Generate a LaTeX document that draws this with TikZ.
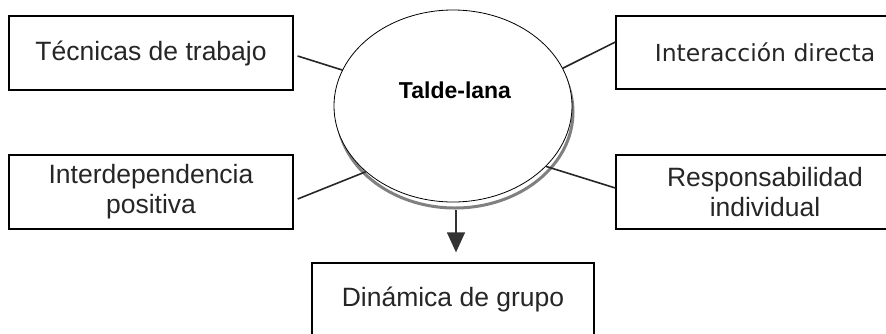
\documentclass[tikz,border=0pt]{standalone}
\usepackage{fontspec}
\setmainfont{Liberation Sans}
\newfontfamily\verdanalike{DejaVu Sans}
\usetikzlibrary{shapes.geometric,arrows.meta}
\begin{document}
\begin{tikzpicture}[x=1pt,y=1pt,
  box/.style={draw=black,line width=1.3pt,rectangle,inner sep=0pt,align=center,
    font=\fontsize{26.5}{30}\selectfont,text=black!85},
  conn/.style={draw=black!85,line width=1.6pt},
  oval/.style={ellipse,draw=black,line width=0.8pt,fill=white,inner sep=0pt,
    minimum width=238pt,minimum height=192pt},
  shade/.style={ellipse,draw=black!50,line width=3pt,inner sep=0pt,
    minimum width=236pt,minimum height=192pt}]
\useasboundingbox (0,0) rectangle (886,-333);
\clip (0,0) rectangle (886,-333);
\fill[white] (0,0) rectangle (886,-333);

% boxes
\node[box,minimum width=284pt,minimum height=74pt] (tec) at (151,-53) {Técnicas de trabajo};
\node[box,minimum width=284pt,minimum height=74pt] (idp) at (151,-192) {Interdependencia\\positiva};
\node[box,minimum width=298pt,minimum height=73pt,font=\verdanalike\fontsize{23.5}{28}\selectfont] (int) at (765,-52.5) {Interacción directa};
\node[box,minimum width=298pt,minimum height=74pt] (res) at (765,-192) {Responsabilidad\\individual};
\node[box,minimum width=282pt,minimum height=72pt] (dyn) at (453,-299) {Dinámica de grupo};

% central ellipse with shadow
\node[shade] (tlshadow) at (455,-112) {};
\node[oval] (tl) at (453,-106) {};
\node[font=\bfseries\fontsize{23}{27}\selectfont] (tltext) at ([xshift=2pt,yshift=16pt]tl.center) {Talde-lana};

% connectors
\draw[conn] ([xshift=4pt,yshift=-3pt]tec.east) -- (tl.162);
\draw[conn] (tl.19) -- ([yshift=10.5pt]int.west);
\draw[conn] ([xshift=4pt,yshift=-7pt]idp.east) -- (tl.217);
\draw[conn] (tl.-33) -- ([yshift=4pt]res.west);

% arrow
\draw[draw=black!80,line width=1.4pt,-{Triangle[width=18pt,length=20pt]}]
  ([xshift=1pt]tlshadow.south) -- ([xshift=3pt,yshift=10pt]dyn.north);
\end{tikzpicture}
\end{document}
